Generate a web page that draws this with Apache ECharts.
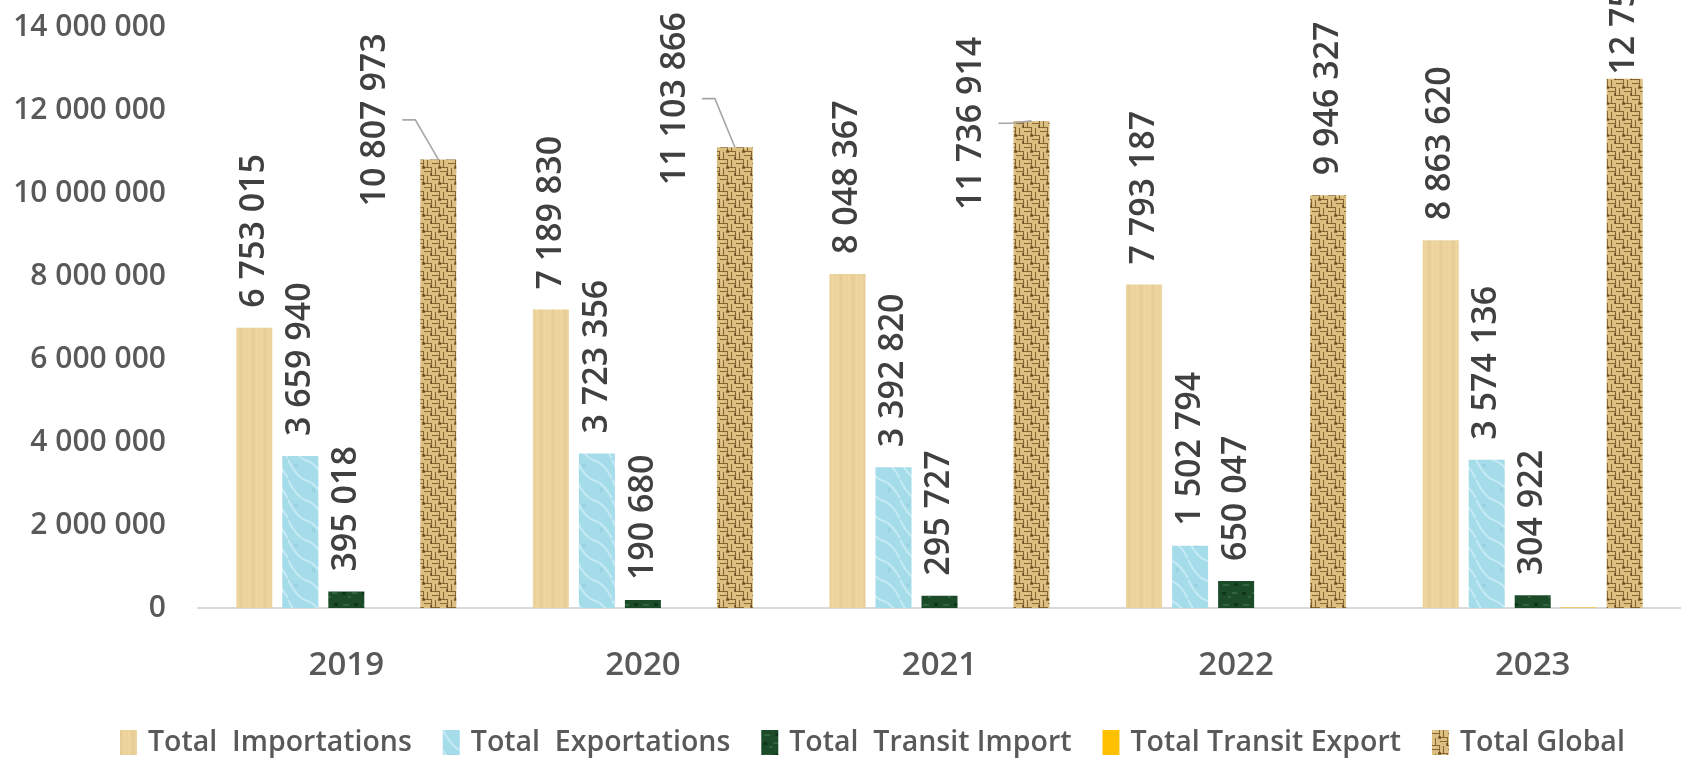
<!DOCTYPE html>
<html>
<head>
<meta charset="utf-8">
<script src="https://cdn.jsdelivr.net/npm/echarts@6/dist/echarts.min.js"></script>
<style>
html,body{margin:0;padding:0;background:#fff;}
#chart{width:1681px;height:760px;}
</style>
</head>
<body>
<div id="chart"></div>
<script>
// ---- data ----
const categories = ['2019', '2020', '2021', '2022', '2023'];
const seriesNames = ['Total  Importations', 'Total  Exportations', 'Total  Transit Import', 'Total Transit Export', 'Total Global'];
const importations = [6753015, 7189830, 8048367, 7793187, 8863620];
const exportations = [3659940, 3723356, 3392820, 1502794, 3574136];
const transitImport = [395018, 190680, 295727, 650047, 304922];
const transitExport = [0, 0, 0, 299, 10000];
const totalGlobal = [10807973, 11103866, 11736914, 9946327, 12752678];
const yTicks = [0, 2000000, 4000000, 6000000, 8000000, 10000000, 12000000, 14000000];

// ---- styles ----
// screen-space shifts [x, y] of the Total Global labels
const globalLabelShift = [[-63, 67], [-60, 58], [-60, 109], [0, 0], [0, 16]];
const globalLabelLine = [true, true, true, false, false];
const LABEL_SIZE = 34, LABEL_DIST = 20;
const BAR_W = 36, BAR_GAP_PX = 10;
const LABEL_FONT_CSS = '600 ' + LABEL_SIZE + 'px "Open Sans"';

function tile(w, h, draw) {
  const c = document.createElement('canvas');
  c.width = w; c.height = h;
  draw(c.getContext('2d'), w, h);
  return c;
}
const texImport = tile(24, 24, (ctx, w, h) => {
  ctx.fillStyle = '#EBD29B'; ctx.fillRect(0, 0, w, h);
  for (let x = 0; x < w; x += 4) {
    ctx.fillStyle = (x % 12 === 0) ? 'rgba(220,192,130,0.25)' : 'rgba(244,226,180,0.3)';
    ctx.fillRect(x, 0, 2, h);
  }
  ctx.fillStyle = 'rgba(225,200,140,0.15)';
  ctx.fillRect(0, 7, w, 2); ctx.fillRect(0, 18, w, 1);
});
const texExport = tile(36, 40, (ctx, w, h) => {
  ctx.fillStyle = '#A5DCEA'; ctx.fillRect(0, 0, w, h);
  ctx.strokeStyle = 'rgba(225,246,252,0.55)'; ctx.lineWidth = 2;
  for (let k = -3; k < 3; k++) {
    ctx.beginPath();
    for (let t = 0; t <= 36; t += 2) {
      const x = t, y = k * 20 + t * 1.1 + Math.sin(t / 6) * 4;
      if (t === 0) ctx.moveTo(x, y); else ctx.lineTo(x, y);
    }
    ctx.stroke();
  }
  ctx.fillStyle = 'rgba(120,180,200,0.25)';
  ctx.fillRect(6, 24, 4, 3); ctx.fillRect(24, 8, 3, 4);
});
const texTransit = tile(20, 20, (ctx, w, h) => {
  ctx.fillStyle = '#1C4B2A'; ctx.fillRect(0, 0, w, h);
  ctx.fillStyle = 'rgba(70,130,85,0.45)';
  ctx.fillRect(3, 4, 6, 2); ctx.fillRect(12, 12, 5, 2); ctx.fillRect(8, 16, 3, 2);
  ctx.fillStyle = 'rgba(5,30,15,0.5)';
  ctx.fillRect(14, 3, 4, 3); ctx.fillRect(2, 12, 4, 3);
});
const texGlobal = tile(16, 16, (ctx, w, h) => {
  ctx.fillStyle = '#DABF80'; ctx.fillRect(0, 0, w, h);
  ctx.fillStyle = 'rgba(120,86,36,0.85)';
  for (let i = 0; i < 2; i++) {
    for (let j = 0; j < 2; j++) {
      const x = i * 8, y = j * 8;
      if ((i + j) % 2 === 0) {
        ctx.fillRect(x, y + 3, 7, 1);
        ctx.fillRect(x + 7, y, 1, 8);
      } else {
        ctx.fillRect(x + 3, y, 1, 7);
        ctx.fillRect(x, y + 7, 8, 1);
      }
    }
  }
  ctx.fillStyle = 'rgba(90,60,20,0.6)';
  ctx.fillRect(6, 6, 3, 3); ctx.fillRect(14, 13, 2, 3);
  ctx.fillStyle = 'rgba(245,228,175,0.6)';
  ctx.fillRect(1, 1, 2, 1); ctx.fillRect(10, 10, 2, 1);
});
const fills = [
  { image: texImport, repeat: 'repeat' },
  { image: texExport, repeat: 'repeat' },
  { image: texTransit, repeat: 'repeat' },
  '#FFC000',
  { image: texGlobal, repeat: 'repeat' }
];
const valuesList = [importations, exportations, transitImport, transitExport, totalGlobal];

function fmt(v) { return String(v).replace(/\B(?=(\d{3})+(?!\d))/g, ' '); }
const measureCtx = document.createElement('canvas').getContext('2d');
function textLen(s) { measureCtx.font = LABEL_FONT_CSS; return measureCtx.measureText(s).width; }

const labelFont = { fontFamily: 'Open Sans', fontSize: LABEL_SIZE, fontWeight: 600, color: '#404040' };

const series = valuesList.map((vals, si) => {
  const s = {
    name: seriesNames[si],
    type: 'bar',
    barWidth: BAR_W,
    barGap: (BAR_GAP_PX / BAR_W * 100) + '%',
    itemStyle: { color: fills[si] },
    label: Object.assign({
      show: si !== 3,
      position: 'top',
      distance: LABEL_DIST,
      rotate: 90,
      align: 'left',
      verticalAlign: 'middle',
      formatter: p => fmt(p.value)
    }, labelFont),
    emphasis: { disabled: true },
    data: vals
  };
  if (si === 4) {
    // label is rotated 90deg, so its local dx/dy are in the rotated frame
    s.labelLayout = function (params) {
      const sh = globalLabelShift[params.dataIndex];
      return { dx: -sh[1], dy: sh[0] };
    };
  }
  return s;
});

// leader lines for moved Total Global labels
const nSeries = valuesList.length;
const globalBarOffset = (nSeries - 1) / 2 * (BAR_W + BAR_GAP_PX); // centre of 5th bar relative to category centre
series.push({
  type: 'custom',
  name: 'leader',
  silent: true,
  clip: false,
  z: 3,
  data: totalGlobal.map((v, i) => [i, v]).filter((d, i) => globalLabelLine[i]),
  renderItem: function (params, api) {
    const i = api.value(0), v = api.value(1);
    const p = api.coord([i, v]);
    const cx = p[0] + globalBarOffset;
    const sh = globalLabelShift[i];
    const len = textLen(fmt(v));
    const bottom = p[1] - LABEL_DIST + sh[1];
    const midY = bottom - len / 2;
    const right = cx + sh[0] + LABEL_SIZE / 2;
    return {
      type: 'polyline',
      shape: { points: [[cx, p[1]], [right + 23, midY], [right + 10, midY]] },
      style: { stroke: '#A6A6A6', lineWidth: 1.6, fill: null }
    };
  }
});

const chart = echarts.init(document.getElementById('chart'), null, { renderer: 'canvas' });
chart.setOption({
  animation: false,
  backgroundColor: '#fff',
  grid: { left: 198, top: 27, width: 1500, height: 581, containLabel: false },
  legend: {
    data: seriesNames,
    left: 115,
    top: 723,
    icon: 'rect',
    itemWidth: 17,
    itemHeight: 25,
    itemGap: 31,
    textStyle: { fontFamily: 'Open Sans', fontSize: 28.5, fontWeight: 600, color: '#595959', padding: [0, 0, 0, 6] }
  },
  xAxis: {
    type: 'category',
    data: categories,
    axisLine: { lineStyle: { color: '#D9D9D9', width: 2 } },
    axisTick: { show: false },
    axisLabel: { margin: 41, fontFamily: 'Open Sans', fontSize: 33, fontWeight: 600, color: '#595959' }
  },
  yAxis: {
    type: 'value',
    min: yTicks[0],
    max: yTicks[yTicks.length - 1],
    interval: yTicks[1] - yTicks[0],
    splitLine: { show: false },
    axisLine: { show: false },
    axisTick: { show: false },
    axisLabel: { margin: 32, fontFamily: 'Open Sans', fontSize: 30, fontWeight: 600, color: '#595959', formatter: v => fmt(v) }
  },
  series: series
});
</script>
</body>
</html>
